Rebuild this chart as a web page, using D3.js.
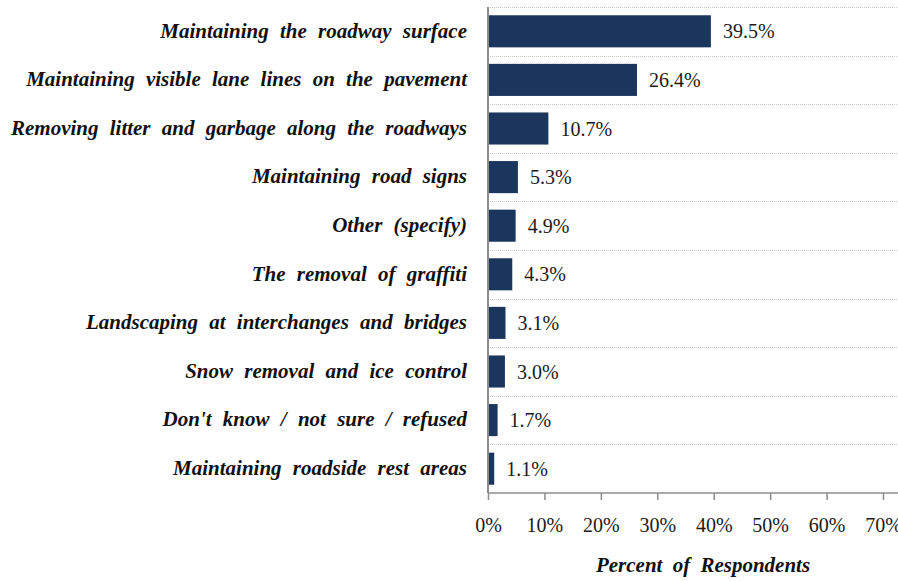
<!DOCTYPE html>
<html>
<head>
<meta charset="utf-8">
<script src="https://cdn.jsdelivr.net/npm/d3@7"></script>
<style>
  html, body { margin: 0; padding: 0; background: #ffffff; }
  svg { display: block; }
</style>
</head>
<body>
<svg id="chart" width="898" height="581"></svg>
<script>
// Survey responses: most important maintenance priority
const categories = [
  "Maintaining the roadway surface",
  "Maintaining visible lane lines on the pavement",
  "Removing litter and garbage along the roadways",
  "Maintaining road signs",
  "Other (specify)",
  "The removal of graffiti",
  "Landscaping at interchanges and bridges",
  "Snow removal and ice control",
  "Don't know / not sure / refused",
  "Maintaining roadside rest areas"
];
const values = [39.5, 26.4, 10.7, 5.3, 4.9, 4.3, 3.1, 3.0, 1.7, 1.1];
const tickValues = [0, 10, 20, 30, 40, 50, 60, 70];
const axisTitle = "Percent of Respondents";

const svg = d3.select("#chart");
const plotLeft = 488, plotRight = 883, plotTop = 7, plotBottom = 493;
const serif = "'Liberation Serif', 'DejaVu Serif', serif";

const x = d3.scaleLinear().domain([0, 70]).range([plotLeft, plotRight]);
const y = d3.scaleBand().domain(categories).range([plotTop, plotBottom]).paddingInner(0.34).paddingOuter(0.17);

// dotted separators between categories
const step = y.step();
const seps = d3.range(categories.length).map(i => plotTop + i * step);
svg.append("g").selectAll("line").data(seps).join("line")
  .attr("x1", plotLeft).attr("x2", 898)
  .attr("y1", d => Math.round(d) + 0.5).attr("y2", d => Math.round(d) + 0.5)
  .attr("stroke", "#c8c8c8").attr("stroke-width", 1).attr("stroke-dasharray", "1,1");

// bars
svg.append("g").selectAll("rect").data(values).join("rect")
  .attr("x", x(0))
  .attr("y", (d, i) => y(categories[i]))
  .attr("width", d => x(d) - x(0))
  .attr("height", y.bandwidth())
  .attr("fill", "#1b365d");

// value labels
svg.append("g").selectAll("text").data(values).join("text")
  .attr("x", d => x(d) + 12)
  .attr("y", (d, i) => y(categories[i]) + y.bandwidth() / 2)
  .attr("dy", "0.35em")
  .attr("font-family", serif).attr("font-size", 20).attr("fill", "#1a1a1a")
  .text(d => d.toFixed(1) + "%");

// category labels
svg.append("g").selectAll("text").data(categories).join("text")
  .attr("x", 467)
  .attr("y", d => y(d) + y.bandwidth() / 2 - 1)
  .attr("dy", "0.35em")
  .attr("text-anchor", "end")
  .attr("font-family", serif).attr("font-size", 21)
  .attr("font-weight", "bold").attr("font-style", "italic")
  .attr("fill", "#111")
  .style("word-spacing", "6px")
  .text(d => d);

// x axis
const xAxis = d3.axisBottom(x).tickValues(tickValues).tickFormat(d => d + "%").tickSize(7).tickPadding(18);
const gx = svg.append("g").attr("transform", `translate(0,${plotBottom})`).call(xAxis);
gx.select(".domain").attr("stroke", "#8c8c8c").attr("stroke-width", 1.5).attr("d", `M${plotLeft},0H898`);
gx.selectAll(".tick line").attr("stroke", "#8c8c8c").attr("stroke-width", 1.5);
gx.selectAll(".tick text").attr("font-family", serif).attr("font-size", 20).attr("fill", "#1a1a1a");

// y axis line
svg.append("line")
  .attr("x1", plotLeft).attr("x2", plotLeft).attr("y1", plotTop).attr("y2", plotBottom)
  .attr("stroke", "#8c8c8c").attr("stroke-width", 2);

// axis title
svg.append("text")
  .attr("x", 703).attr("y", 572)
  .attr("text-anchor", "middle")
  .attr("font-family", serif).attr("font-size", 21)
  .attr("font-weight", "bold").attr("font-style", "italic")
  .attr("fill", "#111")
  .style("word-spacing", "5px")
  .text(axisTitle);
</script>
</body>
</html>
